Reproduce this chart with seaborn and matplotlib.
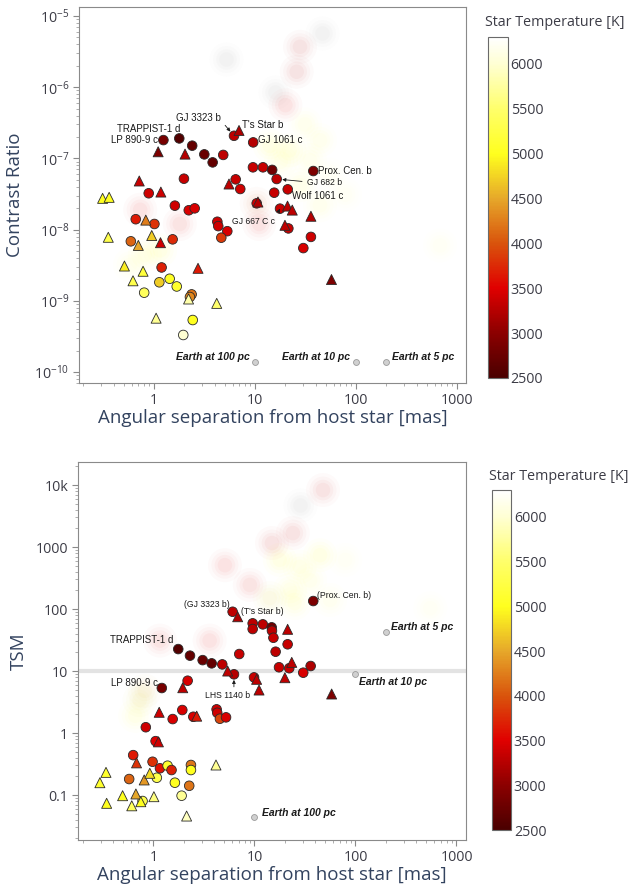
import numpy as np
import pandas as pd
import seaborn as sns
import matplotlib.pyplot as plt
from matplotlib.colors import LinearSegmentedColormap, Normalize
from matplotlib.cm import ScalarMappable
from matplotlib.ticker import FixedLocator, FuncFormatter, LogLocator, NullFormatter

# ---------------- top panel: contrast ratio ----------------
top_circ_sep = [1.24, 1.78, 2.39, 3.15, 4.85, 3.81, 6.2, 9.6, 9.55, 12.0, 14.8, 37.8, 16.4, 15.5,
                21.1, 6.44, 7.15, 1.98, 0.887, 1.61, 2.21, 2.53, 10.4, 17.7, 21.4, 4.24, 4.33, 5.32,
                4.64, 35.8, 30.1, 0.66, 1.01, 0.59, 1.53, 1.19, 1.13, 1.43, 1.68, 0.80, 2.36, 2.27,
                2.42, 1.95]
top_circ_contrast = [1.81e-7, 1.91e-7, 1.51e-7, 1.14e-7, 1.12e-7, 8.8e-8, 2.08e-7, 1.68e-7, 7.5e-8,
                     7.5e-8, 6.9e-8, 6.65e-8, 5.14e-8, 3.3e-8, 3.68e-8, 5.08e-8, 3.72e-8, 5.19e-8,
                     3.24e-8, 2.17e-8, 1.87e-8, 1.99e-8, 2.34e-8, 1.97e-8, 1.04e-8, 1.29e-8, 1.12e-8,
                     9.5e-9, 7.7e-9, 7.9e-9, 5.5e-9, 1.4e-8, 1.2e-8, 6.85e-9, 7.3e-9, 2.94e-9,
                     1.82e-9, 2.04e-9, 1.59e-9, 1.3e-9, 1.23e-9, 1.13e-9, 5.37e-10, 3.31e-10]
top_circ_temp = [2850, 2570, 2700, 2750, 3300, 2700, 3300, 3250, 3350, 3350, 2800, 2900, 3300, 3350,
                 3350, 3350, 3400, 3350, 3400, 3400, 3450, 3450, 3400, 3350, 3350, 3400, 3400, 3450,
                 3850, 3400, 3450, 3650, 3800, 4100, 3750, 3700, 4700, 5050, 5100, 5400, 4200, 4300,
                 5000, 6000]

top_tri_sep = [1.10, 2.03, 6.95, 0.715, 1.17, 5.53, 10.7, 21.0, 23.4, 35.8, 19.8, 0.83, 0.70, 0.95,
               0.353, 1.16, 0.51, 0.78, 0.62, 2.73, 57.2, 0.31, 0.36, 2.2, 4.18, 1.05]
top_tri_contrast = [1.24e-7, 1.15e-7, 2.47e-7, 4.82e-8, 3.37e-8, 4.37e-8, 2.44e-8, 2.14e-8, 1.88e-8,
                    1.54e-8, 1.15e-8, 1.36e-8, 6.0e-9, 8.26e-9, 7.8e-9, 6.55e-9, 3.08e-9, 2.6e-9,
                    1.91e-9, 2.86e-9, 1.99e-9, 2.75e-8, 2.84e-8, 1.06e-9, 9.2e-10, 5.7e-10]
top_tri_temp = [2900, 3250, 3200, 3350, 3400, 3300, 3250, 3300, 3300, 3250, 3300, 4250, 4500, 4700,
                5300, 3400, 4900, 5200, 5300, 3650, 2900, 5000, 5000, 5800, 5500, 5700]

# faint background population
top_bg_sep = [27.9, 25.9, 20.0, 31.3, 44, 22, 35, 55, 28, 78, 44, 11, 0.73, 0.81, 0.58, 1.15, 680,
              1.8, 10.4, 14, 18]
top_bg_contrast = [3.7e-6, 1.65e-6, 5.6e-7, 3.0e-7, 1.8e-7, 1.3e-7, 9.5e-8, 5.9e-8, 4.2e-8, 3.1e-8,
                   2.2e-8, 1.2e-8, 1.9e-8, 4.4e-9, 3.2e-9, 5.1e-9, 6e-9, 1.2e-8, 2.3e-8, 1.5e-7, 9e-8]
top_bg_temp = [3300, 3300, 3500, 5500, 5500, 5000, 5500, 5800, 5300, 5800, 5500, 3500, 3500, 5200,
               5500, 5000, 5800, 3600, 4000, 5000, 5400]
top_gray_sep = [45.7, 5.16, 15.8]
top_gray_contrast = [5.7e-6, 2.5e-6, 8.6e-7]

top_names = ['LP 890-9 c', 'TRAPPIST-1 d', 'GJ 3323 b', "T's Star b", 'GJ 1061 c', 'Prox. Cen. b',
             'GJ 682 b', 'Wolf 1061 c', 'GJ 667 C c']
top_name_sep = [1.24, 1.78, 6.2, 6.95, 9.6, 37.8, 16.4, 21.1, 17.7]
top_name_contrast = [1.81e-7, 1.91e-7, 2.08e-7, 2.47e-7, 1.68e-7, 6.65e-8, 5.14e-8, 3.68e-8, 1.97e-8]

top_earth_labels = ['Earth at 100 pc', 'Earth at 10 pc', 'Earth at 5 pc']
top_earth_sep = [10, 100, 200]
top_earth_contrast = [1.4e-10, 1.4e-10, 1.4e-10]

# ---------------- bottom panel: TSM ----------------
bot_circ_sep = [6.08, 38.2, 9.6, 9.6, 12.1, 14.8, 14.9, 15.4, 21.3, 1.76, 2.3, 3.07, 3.77, 4.8, 7.07,
                16.2, 17.5, 22.1, 30.4, 36.0, 6.27, 9.9, 2.18, 1.21, 1.93, 1.55, 2.48, 4.22, 4.28,
                4.55, 5.23, 0.84, 1.05, 0.63, 0.98, 1.16, 1.38, 1.51, 2.35, 2.35, 0.575, 1.08, 1.63,
                2.26, 1.9, 0.78]
bot_circ_tsm = [90.4, 134.6, 58.8, 47.6, 56.6, 50.7, 44.7, 34.4, 27.0, 22.6, 17.7, 15.0, 13.3, 12.8,
                18.8, 20.5, 11.5, 11.1, 9.4, 12.05, 8.85, 7.9, 6.98, 5.32, 2.35, 1.68, 1.83, 2.41,
                2.12, 1.70, 1.79, 1.24, 0.74, 0.44, 0.344, 0.27, 0.297, 0.253, 0.305, 0.253, 0.181,
                0.19, 0.158, 0.141, 0.0975, 0.08]
bot_circ_temp = [3300, 2900, 3300, 3300, 3300, 2800, 3300, 3350, 3350, 2570, 2700, 2750, 2700, 3300,
                 3350, 3300, 3350, 3350, 3450, 3200, 3250, 3350, 3450, 2850, 3450, 3450, 3450, 3400,
                 3400, 3900, 3450, 3400, 3500, 3650, 3800, 3600, 5100, 3700, 4200, 5000, 4100, 5300,
                 5000, 4200, 5700, 5300]

bot_tri_sep = [6.82, 21.3, 23.4, 5.43, 10.5, 20.0, 11.1, 1.95, 58.1, 1.14, 2.68, 1.12, 0.68, 0.339,
               0.81, 0.92, 0.295, 0.495, 0.67, 1.01, 0.344, 0.61, 2.13, 4.16, 0.75]
bot_tri_tsm = [75.1, 47.1, 13.8, 10.0, 7.35, 7.8, 4.94, 5.38, 4.26, 2.16, 1.87, 0.72, 0.33, 0.232,
               0.175, 0.224, 0.158, 0.0975, 0.104, 0.094, 0.0735, 0.067, 0.0458, 0.305, 0.078]
bot_tri_temp = [3200, 3300, 3300, 3300, 3300, 3300, 3300, 3300, 2900, 3400, 3650, 3400, 3800, 5100,
                4400, 4800, 5100, 5000, 4500, 5600, 5000, 5400, 5900, 5700, 5000]

bot_bg_sep = [47.7, 24, 14.9, 5.1, 9.0, 17.8, 28, 44.6, 22.5, 35.5, 56, 25, 14.2, 79, 0.73, 0.82,
              0.66, 1.16, 3.6, 550]
bot_bg_tsm = [8300, 1680, 1160, 510, 245, 620, 480, 740, 205, 290, 140, 125, 150, 620, 3.4, 4.8,
              1.9, 31, 31, 103]
bot_bg_temp = [3400, 3400, 3400, 3500, 3600, 5000, 5200, 5000, 5300, 5500, 5600, 5200, 4800, 5800,
               4800, 4500, 5200, 3600, 3500, 5800]
bot_gray_sep = [28.2]
bot_gray_tsm = [4760]

bot_names = ['(GJ 3323 b)', "(T's Star b)", '(Prox. Cen. b)', 'TRAPPIST-1 d', 'LP 890-9 c', 'LHS 1140 b']
bot_name_sep = [6.08, 6.82, 38.2, 1.76, 1.21, 6.27]
bot_name_tsm = [90.4, 75.1, 134.6, 22.6, 5.32, 8.85]

bot_earth_labels = ['Earth at 100 pc', 'Earth at 10 pc', 'Earth at 5 pc']
bot_earth_sep = [10, 100, 200]
bot_earth_tsm = [0.045, 8.9, 43]

# ---------------- style ----------------
sns.set_style('white')
plt.rcParams['font.family'] = ['Open Sans', 'DejaVu Sans']

tmin, tmax = 2500, 6300
stops = [(2500, '#4a0000'), (3000, '#8c0000'), (3500, '#e00000'), (4000, '#d9540c'),
         (4500, '#e6a82a'), (5000, '#ffff1e'), (5500, '#ffff6a'), (6000, '#ffffd2'), (6300, '#ffffff')]
cmap = LinearSegmentedColormap.from_list('startemp', [((t - tmin) / (tmax - tmin), c) for t, c in stops])
norm = Normalize(tmin, tmax)

TITLE_C = '#33435f'
TICK_C = '#3c3c46'
LABEL_FONT = ['Liberation Sans', 'DejaVu Sans']

fig = plt.figure(figsize=(6.34, 8.86), dpi=100)
ax1 = fig.add_axes([0.1246, 0.5677, 0.6104, 0.4244])
ax2 = fig.add_axes([0.1230, 0.0519, 0.6120, 0.4266])


def draw(ax, csep, cval, ctemp, tsep, tval, ttemp, bsep, bval, btemp, gsep, gval):
    ax.set_xscale('log')
    ax.set_yscale('log')
    # blurry background cloud
    for s, a in [(600, 0.018), (380, 0.025), (220, 0.03), (110, 0.035)]:
        sns.scatterplot(x=bsep, y=bval, hue=btemp, palette=cmap, hue_norm=norm, s=s, alpha=a,
                        linewidth=0, legend=False, ax=ax)
        sns.scatterplot(x=gsep, y=gval, color='#9a9a9a', s=s, alpha=a, linewidth=0, legend=False, ax=ax)
    circ = pd.DataFrame({'sep': csep, 'val': cval, 'temp': ctemp})
    tri = pd.DataFrame({'sep': tsep, 'val': tval, 'temp': ttemp})
    sns.scatterplot(data=circ, x='sep', y='val', hue='temp', palette=cmap, hue_norm=norm, marker='o',
                    s=48, edgecolor='#2a2a2a', linewidth=0.6, legend=False, ax=ax, zorder=3)
    sns.scatterplot(data=tri, x='sep', y='val', hue='temp', palette=cmap, hue_norm=norm, marker='^',
                    s=52, edgecolor='#2a2a2a', linewidth=0.6, legend=False, ax=ax, zorder=3)


def style_axes(ax, xlim, ylim, ylabel, ylabel_x):
    ax.set_xlim(*xlim)
    ax.set_ylim(*ylim)
    for sp in ax.spines.values():
        sp.set_color('#8a8a8a')
        sp.set_linewidth(0.8)
    ax.xaxis.set_major_locator(FixedLocator([1, 10, 100, 1000]))
    ax.xaxis.set_major_formatter(FuncFormatter(lambda v, _: f'{v:g}'))
    ax.xaxis.set_minor_locator(LogLocator(base=10, subs=np.arange(2, 10)))
    ax.xaxis.set_minor_formatter(NullFormatter())
    ax.yaxis.set_minor_locator(LogLocator(base=10, subs=np.arange(2, 10)))
    ax.yaxis.set_minor_formatter(NullFormatter())
    ax.tick_params(which='major', direction='out', length=4, width=0.8, color='#8a8a8a',
                   labelsize=10.3, labelcolor=TICK_C, pad=3, bottom=True, left=True)
    ax.tick_params(which='minor', direction='out', length=2, width=0.6, color='#a0a0a0',
                   bottom=True, left=True)
    ax.set_xlabel('Angular separation from host star [mas]', fontsize=13.5, color=TITLE_C)
    ax.xaxis.set_label_coords(0.5, -0.068)
    ax.set_ylabel(ylabel, fontsize=13.5, color=TITLE_C)
    ax.yaxis.set_label_coords(ylabel_x, 0.5)


def earth(ax, sep, val, labels, offsets):
    sns.scatterplot(x=sep, y=val, color='#d0d0d0', edgecolor='#9a9a9a', linewidth=0.6, s=18,
                    legend=False, ax=ax, zorder=3)
    for lab, x, y, (dx, dy, ha) in zip(labels, sep, val, offsets):
        ax.annotate(lab, (x, y), xytext=(dx, dy), textcoords='offset points', ha=ha, va='center',
                    fontsize=7.5, fontweight='bold', fontstyle='italic', family=LABEL_FONT,
                    color='#1a1a1a')


def names(ax, labels, sep, val, specs):
    for lab, x, y, (dx, dy, ha, fs, arrow) in zip(labels, sep, val, specs):
        kw = {}
        if arrow:
            kw['arrowprops'] = dict(arrowstyle='-|>', color='#1a1a1a', lw=0.6, mutation_scale=5,
                                    shrinkA=1, shrinkB=4, relpos=arrow)
        ax.annotate(lab, (x, y), xytext=(dx, dy), textcoords='offset points', ha=ha, va='center',
                    fontsize=fs, family=LABEL_FONT, color='#1a1a1a', zorder=4, **kw)


# top panel
draw(ax1, top_circ_sep, top_circ_contrast, top_circ_temp, top_tri_sep, top_tri_contrast, top_tri_temp,
     top_bg_sep, top_bg_contrast, top_bg_temp, top_gray_sep, top_gray_contrast)
style_axes(ax1, (0.181, 1228), (7.0e-11, 1.34e-5), 'Contrast Ratio', -0.142)
earth(ax1, top_earth_sep, top_earth_contrast, top_earth_labels,
      [(-3.6, 3.1, 'right'), (-4, 3.1, 'right'), (4, 3.1, 'left')])
names(ax1, top_names, top_name_sep, top_name_contrast,
      [(-3.6, 0, 'right', 7, None), (1, 6.5, 'right', 7, None), (-9.4, 12.5, 'right', 7, (1, 0.3)),
       (2, 3.8, 'left', 7, None), (3.6, 1.5, 'left', 7, None), (3.6, 0, 'left', 7, None),
       (21.6, -2.7, 'left', 6.2, (0, 0.6)), (3.3, -4.6, 'left', 7, None),
       (-3.6, -8.9, 'right', 6.2, (1, 0.8))])

# bottom panel
ax2.axhline(10, color='#d8d8d8', lw=3, alpha=0.7, zorder=1)
draw(ax2, bot_circ_sep, bot_circ_tsm, bot_circ_temp, bot_tri_sep, bot_tri_tsm, bot_tri_temp,
     bot_bg_sep, bot_bg_tsm, bot_bg_temp, bot_gray_sep, bot_gray_tsm)
style_axes(ax2, (0.179, 1242), (0.0188, 23500), 'TSM', -0.128)
tsm_ticks = [0.1, 1, 10, 100, 1000, 10000]
tsm_labels = ['0.1', '1', '10', '100', '1000', '10k']
ax2.yaxis.set_major_locator(FixedLocator(tsm_ticks))
ax2.set_yticklabels(tsm_labels)
earth(ax2, bot_earth_sep, bot_earth_tsm, bot_earth_labels,
      [(5.3, 2.4, 'left'), (2.7, -5.5, 'left'), (3.6, 3.6, 'left')])
names(ax2, bot_names, bot_name_sep, bot_name_tsm,
      [(-2, 5.3, 'right', 6.2, None), (2.2, 4.1, 'left', 6.2, None), (2.9, 3.8, 'left', 6.2, None),
       (-3.6, 6.5, 'right', 7, None), (-2.4, 3.8, 'right', 7, None),
       (-4.3, -15.6, 'center', 6.2, (0.63, 1))])

# colorbars
for rect, title_xy in [([0.7697, 0.5734, 0.0315, 0.3849], (485 / 634, 1 - 23 / 886)),
                       ([0.7760, 0.0632, 0.0300, 0.3837], (489 / 634, 1 - 476 / 886))]:
    cax = fig.add_axes(rect)
    cb = fig.colorbar(ScalarMappable(norm=norm, cmap=cmap), cax=cax)
    cb.set_ticks(list(range(2500, 6001, 500)))
    cb.ax.tick_params(length=0, labelsize=10.3, labelcolor=TICK_C, pad=2)
    cb.outline.set_edgecolor('#6a6a6a')
    cb.outline.set_linewidth(0.8)
    fig.text(title_xy[0], title_xy[1], 'Star Temperature [K]', ha='left', va='center',
             fontsize=10.3, color=TICK_C)

fig.savefig('out.png', dpi=100)
